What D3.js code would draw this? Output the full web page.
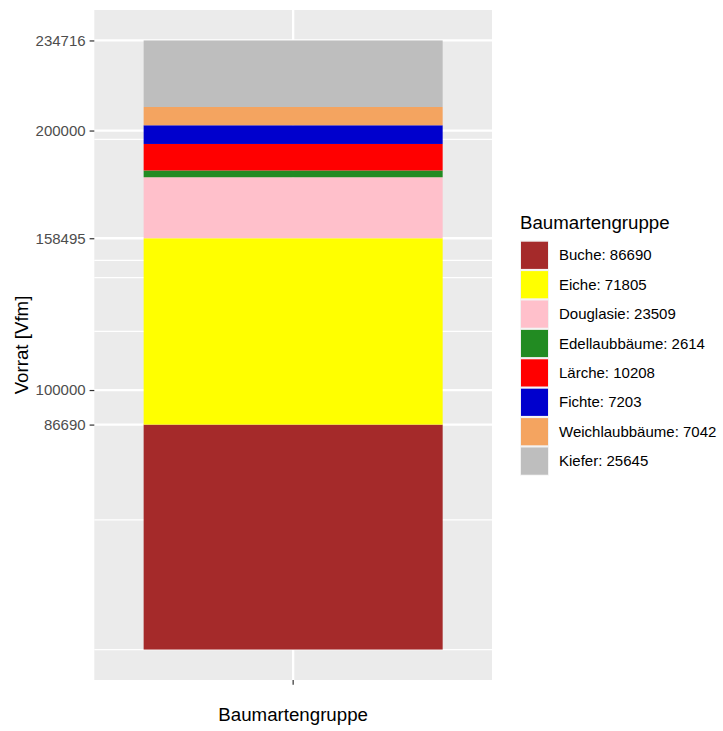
<!DOCTYPE html>
<html>
<head>
<meta charset="utf-8">
<script src="https://cdn.jsdelivr.net/npm/d3@7"></script>
<style>
  body { margin: 0; background: #fff; }
  text { font-family: "Liberation Sans", Arial, Helvetica, sans-serif; }
</style>
</head>
<body>
<svg id="chart" width="723" height="731"></svg>
<script>
// data
let species = ["Buche", "Eiche", "Douglasie", "Edellaubbäume", "Lärche", "Fichte", "Weichlaubbäume", "Kiefer"];
let volumes = [86690, 71805, 23509, 2614, 10208, 7203, 7042, 25645];
let colours = ["#A52A2A", "#FFFF00", "#FFC0CB", "#228B22", "#FF0000", "#0000CD", "#F4A460", "#BEBEBE"];
let y_breaks = [0, 100000, 200000, 86690, 158495, 234716];
let y_labels = [234716, 200000, 158495, 100000, 86690];
let x_category = ["Baumartengruppe"];

var svg = d3.select("#chart");
var panel = {left: 94.3, right: 492, top: 10, bottom: 680};

// stacked segments
let stack_data = [];
let running = 0;
for (var i = 0; i < species.length; i++) {
  stack_data.push({name: species[i], y0: running, y1: running + volumes[i], colour: colours[i]});
  running += volumes[i];
}
let total = running;
let expand = total * 0.05;

var x_axis = d3.scaleBand().domain(x_category).range([panel.left, panel.right]).paddingOuter(0.165);
var y_axis = d3.scaleLinear().domain([-expand, total + expand]).range([panel.bottom, panel.top]);

// minor breaks: midpoints between consecutive breaks (ggplot style)
let minor_breaks = [];
for (var i = 0; i < y_breaks.length - 1; i++) {
  minor_breaks.push((y_breaks[i] + y_breaks[i + 1]) / 2);
}
minor_breaks.push(0);

svg.append("rect")
  .attr("x", panel.left).attr("y", panel.top)
  .attr("width", panel.right - panel.left)
  .attr("height", panel.bottom - panel.top)
  .attr("fill", "#EBEBEB");

var grid = svg.append("g");
grid.selectAll(".minor")
  .data(minor_breaks)
  .enter().append("line")
    .attr("x1", panel.left).attr("x2", panel.right)
    .attr("y1", d => y_axis(d)).attr("y2", d => y_axis(d))
    .attr("stroke", "#FFFFFF").attr("stroke-width", 1.2);

grid.selectAll(".major")
  .data(y_labels)
  .enter().append("line")
    .attr("x1", panel.left).attr("x2", panel.right)
    .attr("y1", d => y_axis(d)).attr("y2", d => y_axis(d))
    .attr("stroke", "#FFFFFF").attr("stroke-width", 2.3);

var x_mid = x_axis(x_category[0]) + x_axis.bandwidth() / 2;
grid.append("line")
  .attr("x1", x_mid).attr("x2", x_mid)
  .attr("y1", panel.top).attr("y2", panel.bottom)
  .attr("stroke", "#FFFFFF").attr("stroke-width", 2.3);

svg.selectAll(".bar")
  .data(stack_data)
  .enter().append("rect")
    .attr("class", "bar")
    .attr("x", x_axis(x_category[0]))
    .attr("width", x_axis.bandwidth())
    .attr("y", d => y_axis(d.y1))
    .attr("height", d => y_axis(d.y0) - y_axis(d.y1))
    .attr("fill", d => d.colour);

// y axis
var y_g = svg.append("g")
  .attr("transform", "translate(" + panel.left + ",0)")
  .call(d3.axisLeft(y_axis).tickValues(y_labels).tickFormat(d => String(d)).tickSize(4.7).tickPadding(4));
y_g.select(".domain").remove();
y_g.selectAll(".tick line").attr("stroke", "#333333").attr("stroke-width", 1.2);
y_g.selectAll(".tick text")
  .attr("fill", "#4D4D4D")
  .style("font-size", "15px")
  .style("font-family", "Liberation Sans, Arial, sans-serif");

// x axis
var x_g = svg.append("g")
  .attr("transform", "translate(0," + panel.bottom + ")")
  .call(d3.axisBottom(x_axis).tickFormat("").tickSize(4.7));
x_g.select(".domain").remove();
x_g.selectAll(".tick line").attr("stroke", "#333333").attr("stroke-width", 1.2);

svg.append("text")
  .attr("x", (panel.left + panel.right) / 2)
  .attr("y", 720.5)
  .attr("text-anchor", "middle")
  .style("font-size", "18.7px")
  .attr("fill", "#000")
  .text("Baumartengruppe");

svg.append("text")
  .attr("transform", "translate(27.5," + (panel.top + panel.bottom) / 2 + ") rotate(-90)")
  .attr("text-anchor", "middle")
  .style("font-size", "18.7px")
  .attr("fill", "#000")
  .text("Vorrat [Vfm]");

// legend
var legend = svg.append("g").attr("transform", "translate(520,240.3)");
legend.append("text")
  .attr("x", 0).attr("y", -11)
  .style("font-size", "18.7px")
  .attr("fill", "#000")
  .text("Baumartengruppe");

let key_step = 29.4;
var keys = legend.selectAll(".key")
  .data(stack_data)
  .enter().append("g")
    .attr("transform", (d, i) => "translate(0," + i * key_step + ")");
keys.append("rect")
  .attr("width", 29).attr("height", key_step)
  .attr("fill", "#F2F2F2");
keys.append("rect")
  .attr("x", 1).attr("y", 1.4)
  .attr("width", 27).attr("height", key_step - 2.2)
  .attr("fill", d => d.colour);
keys.append("text")
  .attr("x", 39).attr("y", key_step / 2)
  .attr("dominant-baseline", "central")
  .style("font-size", "15px")
  .attr("fill", "#000")
  .text((d, i) => d.name + ": " + volumes[i]);
</script>
</body>
</html>
